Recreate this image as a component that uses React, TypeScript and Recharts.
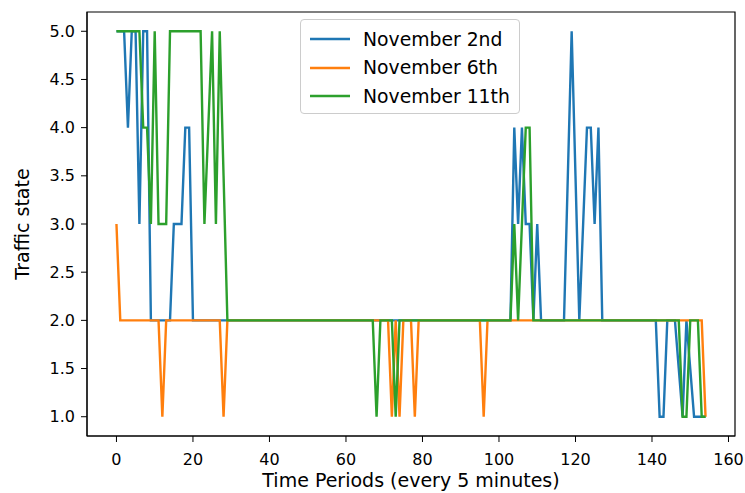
import { LineChart, Line, XAxis, YAxis, Legend, ReferenceArea } from 'recharts'

// traffic state per 5-minute period (index = period)
const nov2nd = [
  5, 5, 5, 4, 5, 5, 3, 5, 5, 2,
  2, 2, 2, 2, 2, 3, 3, 3, 4, 4,
  2, 2, 2, 2, 2, 2, 2, 2, 2, 2,
  2, 2, 2, 2, 2, 2, 2, 2, 2, 2,
  2, 2, 2, 2, 2, 2, 2, 2, 2, 2,
  2, 2, 2, 2, 2, 2, 2, 2, 2, 2,
  2, 2, 2, 2, 2, 2, 2, 2, 2, 2,
  2, 2, 2, 2, 2, 2, 2, 2, 2, 2,
  2, 2, 2, 2, 2, 2, 2, 2, 2, 2,
  2, 2, 2, 2, 2, 2, 2, 2, 2, 2,
  2, 2, 2, 2, 4, 3, 4, 3, 3, 2,
  3, 2, 2, 2, 2, 2, 2, 2, 3.5, 5,
  3.5, 2, 3, 4, 4, 3, 4, 2, 2, 2,
  2, 2, 2, 2, 2, 2, 2, 2, 2, 2,
  2, 2, 1, 1, 2, 2, 2, 1.5, 1, 2,
  1.5, 1, 1, 1, 1,
]

const nov6th = [
  3, 2, 2, 2, 2, 2, 2, 2, 2, 2,
  2, 2, 1, 2, 2, 2, 2, 2, 2, 2,
  2, 2, 2, 2, 2, 2, 2, 2, 1, 2,
  2, 2, 2, 2, 2, 2, 2, 2, 2, 2,
  2, 2, 2, 2, 2, 2, 2, 2, 2, 2,
  2, 2, 2, 2, 2, 2, 2, 2, 2, 2,
  2, 2, 2, 2, 2, 2, 2, 2, 2, 2,
  2, 2, 1, 2, 1, 2, 2, 2, 1, 2,
  2, 2, 2, 2, 2, 2, 2, 2, 2, 2,
  2, 2, 2, 2, 2, 2, 1, 2, 2, 2,
  2, 2, 2, 2, 2, 2, 2, 2, 2, 2,
  2, 2, 2, 2, 2, 2, 2, 2, 2, 2,
  2, 2, 2, 2, 2, 2, 2, 2, 2, 2,
  2, 2, 2, 2, 2, 2, 2, 2, 2, 2,
  2, 2, 2, 2, 2, 2, 2, 2, 2, 2,
  2, 2, 2, 2, 1,
]

const nov11th = [
  5, 5, 5, 5, 5, 5, 5, 4, 4, 3,
  5, 3, 3, 3, 5, 5, 5, 5, 5, 5,
  5, 5, 5, 3, 4, 5, 3, 5, 3.5, 2,
  2, 2, 2, 2, 2, 2, 2, 2, 2, 2,
  2, 2, 2, 2, 2, 2, 2, 2, 2, 2,
  2, 2, 2, 2, 2, 2, 2, 2, 2, 2,
  2, 2, 2, 2, 2, 2, 2, 2, 1, 2,
  2, 2, 2, 1, 2, 2, 2, 2, 2, 2,
  2, 2, 2, 2, 2, 2, 2, 2, 2, 2,
  2, 2, 2, 2, 2, 2, 2, 2, 2, 2,
  2, 2, 2, 2, 3, 2, 3, 4, 4, 2,
  2, 2, 2, 2, 2, 2, 2, 2, 2, 2,
  2, 2, 2, 2, 2, 2, 2, 2, 2, 2,
  2, 2, 2, 2, 2, 2, 2, 2, 2, 2,
  2, 2, 2, 2, 2, 2, 2, 2, 1, 1,
  2, 2, 2, 1, 1,
]

const xTicks = [0, 20, 40, 60, 80, 100, 120, 140, 160]
const yTicks = [1.0, 1.5, 2.0, 2.5, 3.0, 3.5, 4.0, 4.5, 5.0]

const series = [
  { key: 'nov2', name: 'November 2nd', color: '#1f77b4' },
  { key: 'nov6', name: 'November 6th', color: '#ff7f0e' },
  { key: 'nov11', name: 'November 11th', color: '#2ca02c' },
]

const data = nov2nd.map((v, i) => ({
  period: i,
  nov2: v,
  nov6: nov6th[i],
  nov11: nov11th[i],
}))

const font = 'DejaVu Sans'

const LegendBox = () => (
  <div
    style={{
      border: '1px solid #cccccc',
      borderRadius: 4,
      background: 'rgba(255,255,255,0.8)',
      padding: '5px 9px 2px 9px',
      fontFamily: font,
      fontSize: 18.8,
      color: '#000',
      whiteSpace: 'nowrap',
    }}
  >
    {series.map((s) => (
      <div key={s.key} style={{ display: 'flex', alignItems: 'center', height: 28.5 }}>
        <svg width={40} height={4} style={{ marginRight: 13 }}>
          <line x1={0} y1={2} x2={40} y2={2} stroke={s.color} strokeWidth={2.4} />
        </svg>
        <span>{s.name}</span>
      </div>
    ))}
  </div>
)

export default function App() {
  return (
    <div style={{ position: 'absolute', left: 0, top: 0, background: '#fff' }}>
      <LineChart
        width={745}
        height={493}
        data={data}
        margin={{ top: 12, right: 10, bottom: 0, left: 0 }}
        style={{ fontFamily: font }}
      >
        <XAxis
          dataKey="period"
          type="number"
          domain={[-7.7, 161.7]}
          ticks={xTicks}
          allowDataOverflow
          height={57}
          stroke="#000"
          tickSize={6}
          tickMargin={12}
          tick={{ fill: '#000', fontSize: 16 }}
          label={{
            value: 'Time Periods (every 5 minutes)',
            position: 'insideBottom',
            offset: 6,
            style: { fill: '#000', fontSize: 19 },
          }}
        />
        <YAxis
          type="number"
          domain={[0.8, 5.2]}
          ticks={yTicks}
          allowDataOverflow
          width={87}
          stroke="#000"
          tickSize={6}
          tickMargin={6}
          tickFormatter={(v: number) => v.toFixed(1)}
          tick={{ fill: '#000', fontSize: 16 }}
          label={{
            value: 'Traffic state',
            angle: -90,
            position: 'insideLeft',
            offset: 22,
            style: { fill: '#000', fontSize: 19, textAnchor: 'middle' },
          }}
        />
        {series.map((s) => (
          <Line
            key={s.key}
            type="linear"
            dataKey={s.key}
            name={s.name}
            stroke={s.color}
            strokeWidth={2.4}
            dot={false}
            activeDot={false}
            isAnimationActive={false}
          />
        ))}
        <ReferenceArea
          x1={-7.7}
          x2={161.7}
          y1={0.8}
          y2={5.2}
          fill="none"
          stroke="#000"
          strokeWidth={1.2}
          ifOverflow="visible"
        />
        <Legend
          layout="vertical"
          align="center"
          verticalAlign="middle"
          content={() => <LegendBox />}
          wrapperStyle={{ left: 300, top: 19, width: 'auto' }}
        />
      </LineChart>
    </div>
  )
}
